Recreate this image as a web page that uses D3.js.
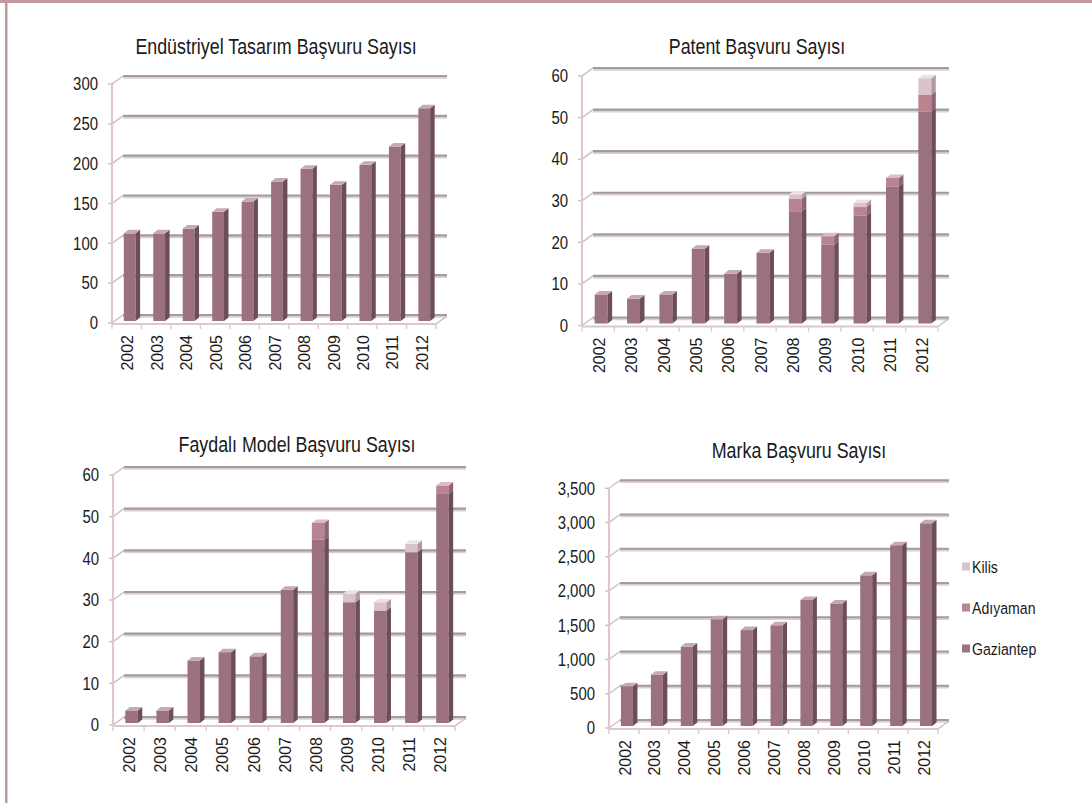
<!DOCTYPE html>
<html>
<head>
<meta charset="utf-8">
<script src="https://cdn.jsdelivr.net/npm/d3@7"></script>
<style>
  html, body { margin: 0; padding: 0; background: #fff; }
  svg { display: block; }
</style>
</head>
<body>
<svg id="chart" width="1092" height="803"></svg>
<script>
// Yıllar ve iller
const years = ["2002", "2003", "2004", "2005", "2006", "2007", "2008", "2009", "2010", "2011", "2012"];
const iller = ["Gaziantep", "Adıyaman", "Kilis"];

// Endüstriyel tasarım başvuruları
const endustriyelGaziantep = [110, 110, 116, 137, 150, 175, 191, 171, 196, 219, 267];
const endustriyelAdiyaman  = [0, 0, 0, 0, 0, 0, 0, 0, 0, 0, 0];
const endustriyelKilis     = [0, 0, 0, 0, 0, 0, 0, 0, 0, 0, 0];
const endustriyelTicks     = [0, 50, 100, 150, 200, 250, 300];

// Patent başvuruları
const patentGaziantep = [7, 6, 7, 18, 12, 17, 27, 19, 26, 33, 51];
const patentAdiyaman  = [0, 0, 0, 0, 0, 0, 3, 2, 2, 2, 4];
const patentKilis     = [0, 0, 0, 0, 0, 0, 1, 0, 1, 0, 4];
const patentTicks     = [0, 10, 20, 30, 40, 50, 60];

// Faydalı model başvuruları
const faydaliGaziantep = [3, 3, 15, 17, 16, 32, 44, 29, 27, 41, 55];
const faydaliAdiyaman  = [0, 0, 0, 0, 0, 0, 4, 0, 0, 0, 2];
const faydaliKilis     = [0, 0, 0, 0, 0, 0, 0, 2, 2, 2, 0];
const faydaliTicks     = [0, 10, 20, 30, 40, 50, 60];

// Marka başvuruları
const markaGaziantep = [580, 750, 1160, 1560, 1400, 1470, 1840, 1790, 2200, 2640, 2960];
const markaAdiyaman  = [0, 0, 0, 0, 0, 0, 0, 0, 0, 0, 0];
const markaKilis     = [0, 0, 0, 0, 0, 0, 0, 0, 0, 0, 0];
const markaTicks     = [0, 500, 1000, 1500, 2000, 2500, 3000, 3500];

// Colours per province: front, side, top faces
const palette = {
  "Gaziantep": { front: "#9b7080", side: "#6d4d59", top: "#c6a9b2", legend: "#9d7380" },
  "Adıyaman":  { front: "#b9838f", side: "#8f6470", top: "#dcbcc4", legend: "#bb8693" },
  "Kilis":     { front: "#dac3c9", side: "#b39aa1", top: "#eee1e5", legend: "#dac5ca" }
};

const NARROW = 0.83;               // horizontal squeeze for the condensed face
const FONT = "'Liberation Sans', Arial, sans-serif";

const svg = d3.select("#chart");

// page frame
svg.append("rect").attr("x", 0).attr("y", 0).attr("width", 1092).attr("height", 803).attr("fill", "#fff");
svg.append("rect").attr("x", 0).attr("y", 0).attr("width", 1092).attr("height", 3).attr("fill", "#c4969e");
svg.append("rect").attr("x", 5).attr("y", 0).attr("width", 2.5).attr("height", 803).attr("fill", "#c4969e");

function narrowText(parent, x, y, str, size, anchor) {
  const g = parent.append("g").attr("transform", `translate(${x},${y}) scale(${NARROW},1)`);
  return g.append("text")
    .attr("x", 0).attr("y", 0)
    .attr("text-anchor", anchor)
    .attr("font-family", FONT)
    .attr("font-size", size)
    .attr("fill", "#1a1a1a")
    .text(str);
}

const panels = [
  { title: "Endüstriyel Tasarım Başvuru Sayısı", series: [endustriyelGaziantep, endustriyelAdiyaman, endustriyelKilis],
    ticks: endustriyelTicks, x0: 112, x1: 436, y0: 323, y1: 84, tx: 276, ty: 54, fmt: d3.format("d") },
  { title: "Patent Başvuru Sayısı", series: [patentGaziantep, patentAdiyaman, patentKilis],
    ticks: patentTicks, x0: 582, x1: 938, y0: 325.5, y1: 76, tx: 757, ty: 54, fmt: d3.format("d") },
  { title: "Faydalı Model Başvuru Sayısı", series: [faydaliGaziantep, faydaliAdiyaman, faydaliKilis],
    ticks: faydaliTicks, x0: 113, x1: 455, y0: 725, y1: 475, tx: 297, ty: 452, fmt: d3.format("d") },
  { title: "Marka Başvuru Sayısı", series: [markaGaziantep, markaAdiyaman, markaKilis],
    ticks: markaTicks, x0: 609, x1: 938, y0: 728, y1: 488.3, tx: 799, ty: 458, fmt: d3.format(",") , legend: true }
];

const wallDx = 11, wallDy = -8;    // depth of the 3-D walls
const barDx = 4.5, barDy = -3.5;   // depth of each column
const barShiftX = 3, barShiftY = -2;

panels.forEach(p => {
  const g = svg.append("g");

  const x = d3.scaleBand().domain(years).range([p.x0, p.x1]).paddingInner(0).paddingOuter(0);
  const y = d3.scaleLinear().domain([0, d3.max(p.ticks)]).range([p.y0, p.y1]);

  // back wall gridlines, side wall diagonals, front ticks
  const grid = g.append("g");
  p.ticks.forEach(t => {
    const yy = y(t);
    grid.append("line")
      .attr("x1", p.x0 + wallDx).attr("x2", p.x1 + wallDx)
      .attr("y1", yy + wallDy + 1.4).attr("y2", yy + wallDy + 1.4)
      .attr("stroke", "#dccfd3").attr("stroke-width", 2.8);
    grid.append("line")
      .attr("x1", p.x0 + wallDx).attr("x2", p.x1 + wallDx)
      .attr("y1", yy + wallDy).attr("y2", yy + wallDy)
      .attr("stroke", "#a29c9f").attr("stroke-width", 2.1);
    grid.append("line")
      .attr("x1", p.x0).attr("x2", p.x0 + wallDx)
      .attr("y1", yy).attr("y2", yy + wallDy)
      .attr("stroke", "#cdbdc2").attr("stroke-width", 1.4);
    grid.append("line")
      .attr("x1", p.x0 - 4).attr("x2", p.x0)
      .attr("y1", yy).attr("y2", yy)
      .attr("stroke", "#cdbdc2").attr("stroke-width", 1.4);
  });

  // front axis line
  g.append("line")
    .attr("x1", p.x0).attr("x2", p.x0).attr("y1", p.y0 + 1).attr("y2", y(d3.max(p.ticks)))
    .attr("stroke", "#dcc8cd").attr("stroke-width", 2.2);

  // floor: front edge, right edge and category ticks
  g.append("line")
    .attr("x1", p.x0).attr("x2", p.x1).attr("y1", p.y0 + 1).attr("y2", p.y0 + 1)
    .attr("stroke", "#dcc8cd").attr("stroke-width", 2);
  g.append("line")
    .attr("x1", p.x1).attr("x2", p.x1 + wallDx).attr("y1", p.y0 + 1).attr("y2", p.y0 + 1 + wallDy)
    .attr("stroke", "#cdbdc2").attr("stroke-width", 1.4);
  years.concat(["end"]).forEach((yr, i) => {
    const xx = p.x0 + i * x.bandwidth();
    g.append("line")
      .attr("x1", xx).attr("x2", xx).attr("y1", p.y0 + 1).attr("y2", p.y0 + 6)
      .attr("stroke", "#dcc8cd").attr("stroke-width", 1.4);
  });

  // stacked 3-D columns
  const rows = years.map((yr, i) => {
    const r = { year: yr };
    iller.forEach((il, k) => { r[il] = p.series[k][i]; });
    return r;
  });
  const stacked = d3.stack().keys(iller)(rows);
  const bw = x.bandwidth() * 0.4;
  const bars = g.append("g");
  years.forEach((yr, i) => {
    const bx = x(yr) + x.bandwidth() / 2 - bw / 2 + barShiftX;
    stacked.forEach(layer => {
      const [a, b] = layer[i];
      if (b <= a) return;
      const c = palette[layer.key];
      const ya = y(a) + barShiftY, yb = y(b) + barShiftY;
      bars.append("rect")
        .attr("x", bx).attr("y", yb).attr("width", bw).attr("height", ya - yb)
        .attr("fill", c.front);
      bars.append("polygon")
        .attr("points", [[bx + bw, yb], [bx + bw + barDx, yb + barDy], [bx + bw + barDx, ya + barDy], [bx + bw, ya]].join(" "))
        .attr("fill", c.side);
      bars.append("polygon")
        .attr("points", [[bx, yb], [bx + barDx, yb + barDy], [bx + bw + barDx, yb + barDy], [bx + bw, yb]].join(" "))
        .attr("fill", c.top);
    });
  });

  // value axis labels
  const yAxis = g.append("g").attr("transform", `translate(${p.x0},0)`)
    .call(d3.axisLeft(y).tickValues(p.ticks).tickSize(0).tickPadding(14).tickFormat(p.fmt));
  yAxis.select(".domain").remove();
  yAxis.selectAll("text")
    .attr("font-family", FONT).attr("font-size", 18).attr("fill", "#1a1a1a")
    .attr("x", -14 / NARROW)
    .attr("transform", `scale(${NARROW},1)`);

  // year labels, rotated
  const xAxis = g.append("g").attr("transform", `translate(0,${p.y0})`)
    .call(d3.axisBottom(x).tickSize(0));
  xAxis.select(".domain").remove();
  xAxis.selectAll("text")
    .attr("font-family", FONT).attr("font-size", 16).attr("fill", "#1a1a1a")
    .attr("transform", "rotate(-90)")
    .attr("text-anchor", "end")
    .attr("x", -12).attr("y", 1).attr("dy", "0.35em");

  // title
  narrowText(g, p.tx, p.ty, p.title, 21.5, "middle");

  // legend
  if (p.legend) {
    const items = ["Kilis", "Adıyaman", "Gaziantep"];
    const ly = d3.scalePoint().domain(items).range([567, 649]);
    items.forEach(il => {
      g.append("rect").attr("x", 962).attr("y", ly(il) - 4.5).attr("width", 8).attr("height", 8)
        .attr("fill", palette[il].legend);
      narrowText(g, 972, ly(il) + 6, il, 17, "start");
    });
  }
});
</script>
</body>
</html>
